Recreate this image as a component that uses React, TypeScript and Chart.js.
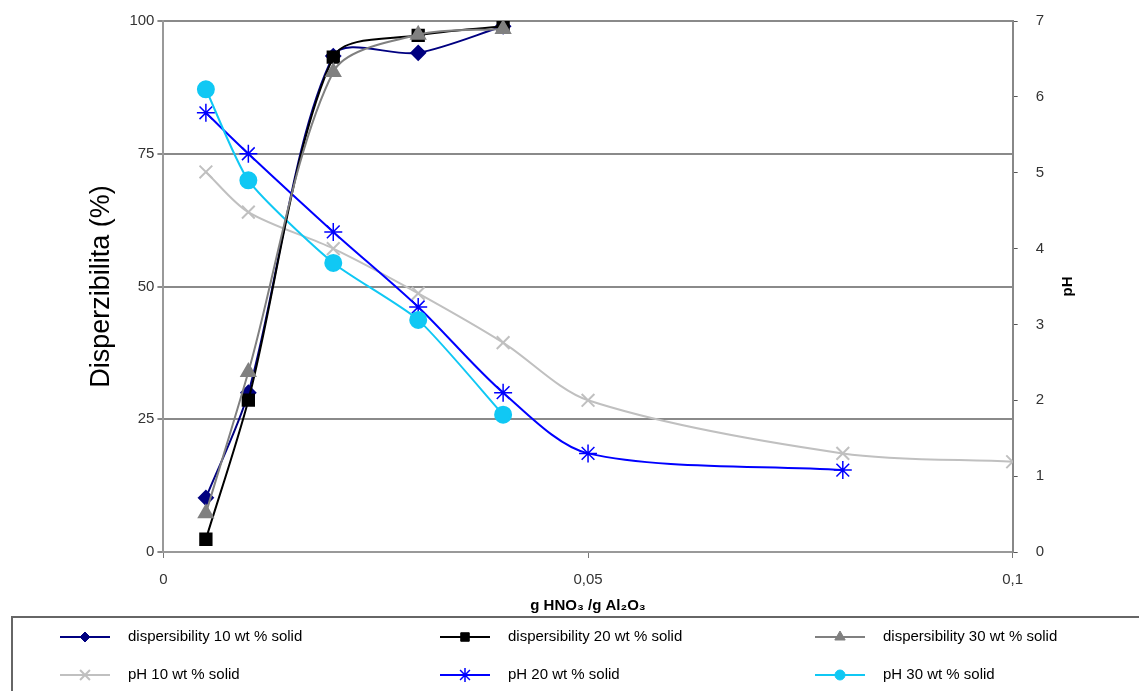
import React, { useEffect, useRef } from "react";
import { Chart, registerables } from "chart.js";
import { drawPoint } from "chart.js/helpers";

Chart.register(...registerables);

const xDisp = [0.005, 0.01, 0.02, 0.03, 0.04];
const disp10 = [10.2, 30, 93.4, 94, 99];
const disp20 = [2.4, 28.6, 93.2, 97.3, 99];
const disp30 = [7.3, 33.9, 90.4, 97.4, 98.5];

const xPh10 = [0.005, 0.01, 0.02, 0.03, 0.04, 0.05, 0.08, 0.1];
const ph10 = [5.01, 4.48, 4.0, 3.41, 2.76, 2.0, 1.3, 1.19];
const xPh20 = [0.005, 0.01, 0.02, 0.03, 0.04, 0.05, 0.08];
const ph20 = [5.79, 5.25, 4.22, 3.23, 2.1, 1.3, 1.08];
const xPh30 = [0.005, 0.01, 0.02, 0.03, 0.04];
const ph30 = [6.1, 4.9, 3.81, 3.06, 1.81];

const xTicks = [0, 0.05, 0.1];
const xTickLabels = ["0", "0,05", "0,1"];

const FONT = "'Liberation Sans', Arial, sans-serif";

const pts = (xs: number[], ys: number[]) => xs.map((x, i) => ({ x, y: ys[i] }));

const noVertPad = (scale: any) => {
  scale.paddingTop = 0;
  scale.paddingBottom = 0;
};

export default function App() {
  const ref = useRef<HTMLCanvasElement | null>(null);

  useEffect(() => {
    document.body.style.margin = "0";
    const canvas = ref.current;
    if (!canvas) return;

    const legendPlugin = {
      id: "customLegend",
      afterDraw(chart: any) {
        const ctx = chart.ctx as CanvasRenderingContext2D;
        ctx.save();
        ctx.font = `bold 15px ${FONT}`;
        ctx.fillStyle = "#000";
        ctx.translate(1068, (chart.chartArea.top + chart.chartArea.bottom) / 2);
        ctx.rotate(-Math.PI / 2);
        ctx.textAlign = "center";
        ctx.textBaseline = "middle";
        ctx.fillText("pH", 0, 0);
        ctx.restore();

        ctx.save();
        ctx.strokeStyle = "#666";
        ctx.lineWidth = 2;
        ctx.strokeRect(12, 617, 1140, 90);
        const cols = [85, 465, 840];
        const rows = [637, 675];
        chart.data.datasets.forEach((ds: any, i: number) => {
          const cx = cols[i % 3];
          const cy = rows[Math.floor(i / 3)];
          ctx.strokeStyle = ds.borderColor;
          ctx.lineWidth = 2;
          ctx.beginPath();
          ctx.moveTo(cx - 25, cy);
          ctx.lineTo(cx + 25, cy);
          ctx.stroke();
          ctx.fillStyle = ds.pointBackgroundColor;
          ctx.strokeStyle = ds.pointBorderColor;
          ctx.lineWidth = ds.pointBorderWidth ?? 1;
          drawPoint(ctx, {
            pointStyle: ds.pointStyle,
            rotation: 0,
            radius: ds.legendRadius,
            borderWidth: ds.pointBorderWidth ?? 1,
          } as any, cx, cy);
          ctx.fillStyle = "#000";
          ctx.font = `15px ${FONT}`;
          ctx.textAlign = "left";
          ctx.textBaseline = "middle";
          ctx.fillText(ds.label, cx + 43, cy);
        });
        ctx.restore();
      },
    };

    const chart = new Chart(canvas, {
      type: "line",
      data: {
        datasets: [
          {
            label: "dispersibility 10 wt % solid",
            data: pts(xDisp, disp10),
            yAxisID: "yL",
            borderColor: "#000080",
            backgroundColor: "#000080",
            pointBackgroundColor: "#000080",
            pointBorderColor: "#000080",
            pointStyle: "rectRot",
            pointRadius: 7,
            legendRadius: 5,
            borderWidth: 2,
            tension: 0.3,
            order: 3,
          },
          {
            label: "dispersibility 20 wt % solid",
            data: pts(xDisp, disp20),
            yAxisID: "yL",
            borderColor: "#000000",
            backgroundColor: "#000000",
            pointBackgroundColor: "#000000",
            pointBorderColor: "#000000",
            pointStyle: "rect",
            pointRadius: 8,
            legendRadius: 6,
            borderWidth: 2,
            tension: 0.3,
            order: 2,
          },
          {
            label: "dispersibility 30 wt % solid",
            data: pts(xDisp, disp30),
            yAxisID: "yL",
            borderColor: "#808080",
            backgroundColor: "#808080",
            pointBackgroundColor: "#808080",
            pointBorderColor: "#808080",
            pointStyle: "triangle",
            pointRadius: 8,
            legendRadius: 6,
            borderWidth: 2,
            tension: 0.3,
            order: 1,
          },
          {
            label: "pH 10 wt % solid",
            data: pts(xPh10, ph10),
            yAxisID: "yR",
            borderColor: "#c0c0c0",
            backgroundColor: "#c0c0c0",
            pointBackgroundColor: "#c0c0c0",
            pointBorderColor: "#c0c0c0",
            pointStyle: "crossRot",
            pointRadius: 9,
            legendRadius: 7,
            pointBorderWidth: 2,
            borderWidth: 2,
            tension: 0.3,
            order: 6,
          },
          {
            label: "pH 20 wt % solid",
            data: pts(xPh20, ph20),
            yAxisID: "yR",
            borderColor: "#0000ff",
            backgroundColor: "#0000ff",
            pointBackgroundColor: "#0000ff",
            pointBorderColor: "#0000ff",
            pointStyle: "star",
            pointRadius: 9,
            legendRadius: 7,
            pointBorderWidth: 1.5,
            borderWidth: 2,
            tension: 0.3,
            order: 5,
          },
          {
            label: "pH 30 wt % solid",
            data: pts(xPh30, ph30),
            yAxisID: "yR",
            borderColor: "#10c8f4",
            backgroundColor: "#10c8f4",
            pointBackgroundColor: "#10c8f4",
            pointBorderColor: "#10c8f4",
            pointStyle: "circle",
            pointRadius: 8,
            legendRadius: 5,
            borderWidth: 2,
            tension: 0.2,
            order: 4,
          },
        ],
      },
      options: {
        animation: false,
        responsive: false,
        maintainAspectRatio: false,
        layout: { padding: { top: 21, bottom: 76, left: 85, right: 77 } },
        plugins: {
          legend: { display: false },
          tooltip: { enabled: false },
        },
        scales: {
          x: {
            type: "linear",
            min: 0,
            max: 0.1,
            afterBuildTicks: (scale: any) => {
              scale.ticks = xTicks.map((v) => ({ value: v }));
            },
            ticks: {
              color: "#333",
              font: { family: FONT, size: 15 },
              padding: 13,
              callback: (v: any) => {
                const i = xTicks.findIndex((t) => Math.abs(t - Number(v)) < 1e-9);
                return i >= 0 ? xTickLabels[i] : "";
              },
            },
            grid: { drawOnChartArea: false, color: "#777", tickLength: 6 },
            border: { color: "#999", width: 2 },
            title: {
              display: true,
              text: "g HNO₃ /g Al₂O₃",
              font: { family: FONT, size: 15, weight: "bold" },
              color: "#000",
              padding: { top: -5, bottom: 0 },
            },
          },
          yL: {
            type: "linear",
            position: "left",
            min: 0,
            max: 100,
            afterFit: noVertPad,
            ticks: {
              stepSize: 25,
              color: "#333",
              font: { family: FONT, size: 15 },
              padding: 3,
            },
            grid: { color: "#8a8a8a", lineWidth: 2, tickLength: 6 },
            border: { color: "#999", width: 2 },
            title: {
              display: true,
              text: "Disperzibilita (%)",
              font: { family: FONT, size: 27 },
              color: "#000",
              padding: { top: 0, bottom: 9 },
            },
          },
          yR: {
            type: "linear",
            position: "right",
            min: 0,
            max: 7,
            afterFit: noVertPad,
            ticks: {
              stepSize: 1,
              color: "#333",
              font: { family: FONT, size: 15 },
              padding: 18,
            },
            grid: { drawOnChartArea: false, color: "#555", tickLength: 5 },
            border: { color: "#888", width: 2 },
          },
        },
      },
      plugins: [legendPlugin],
    } as any);

    return () => chart.destroy();
  }, []);

  return (
    <div style={{ width: 1139, height: 691, background: "#fff" }}>
      <canvas ref={ref} width={1139} height={691} style={{ width: 1139, height: 691 }} />
    </div>
  );
}
